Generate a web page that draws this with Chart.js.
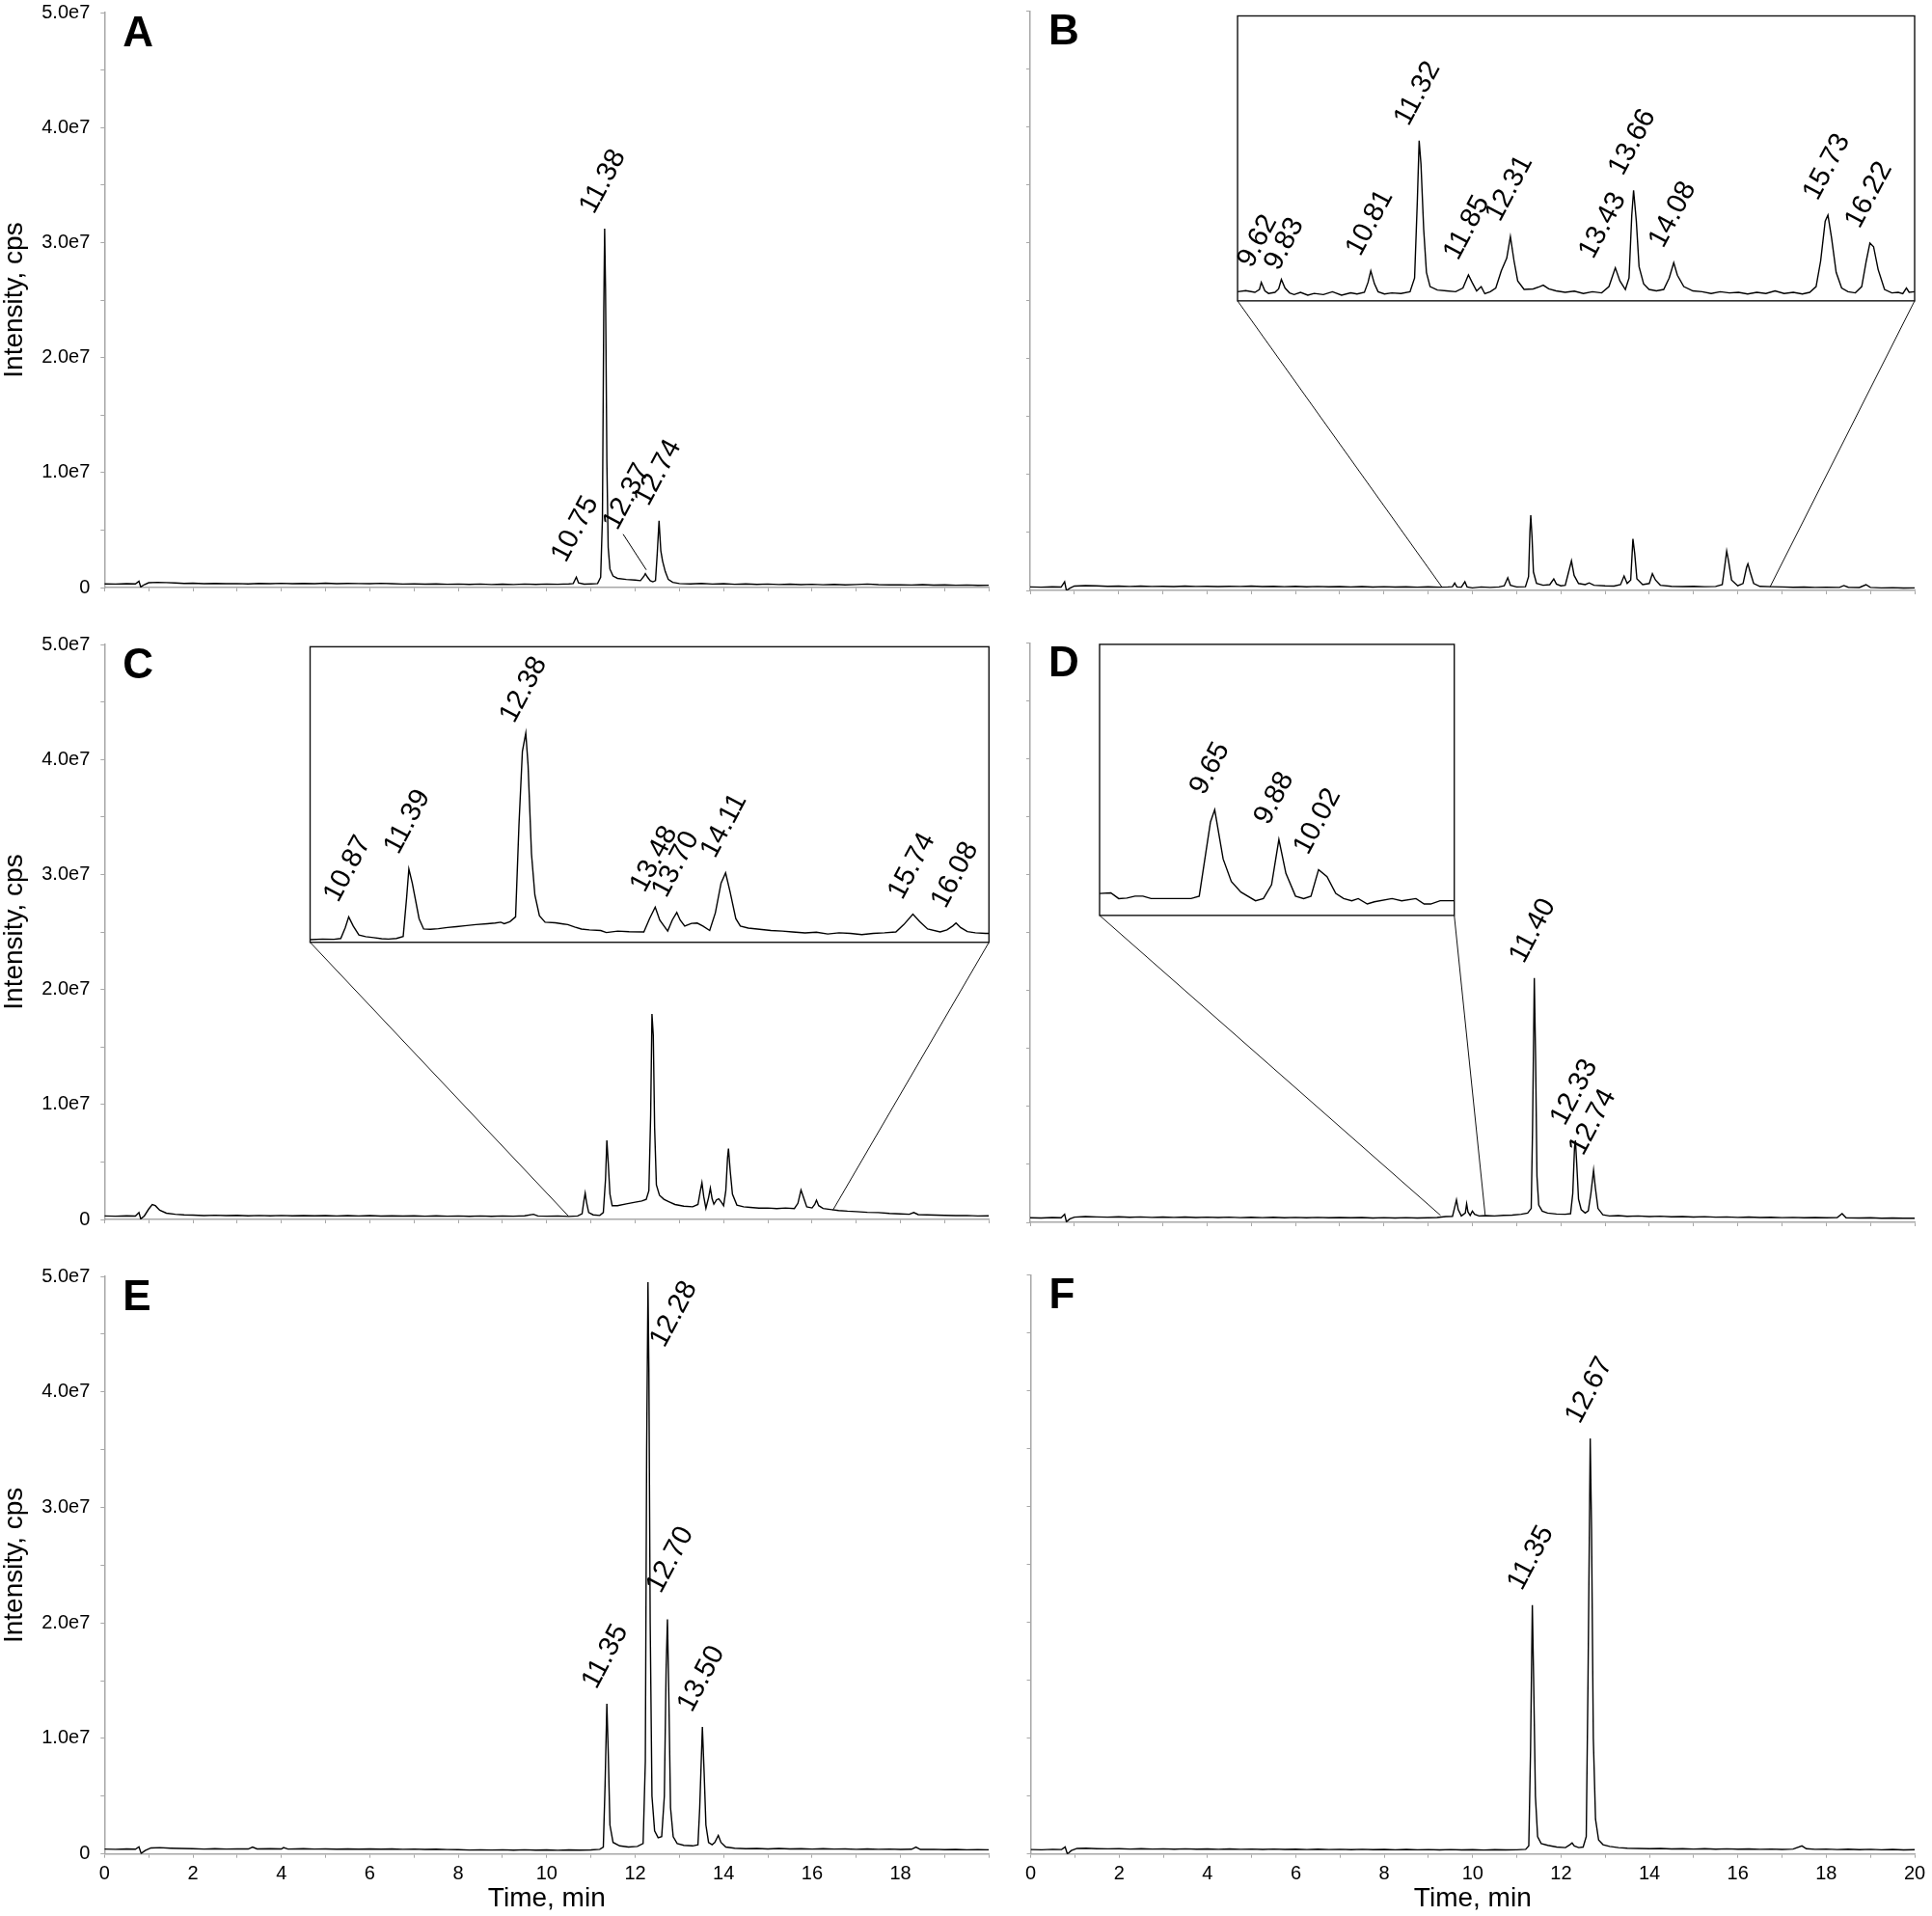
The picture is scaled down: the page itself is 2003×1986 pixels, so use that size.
<!DOCTYPE html>
<html>
<head>
<meta charset="utf-8">
<script src="https://cdn.jsdelivr.net/npm/chart.js@4.4.1/dist/chart.umd.min.js"></script>
<style>
  html, body { margin: 0; padding: 0; background: #fff; overflow: hidden; }
  body { width: 2003px; height: 1986px; position: relative; }
  canvas { position: absolute; }
</style>
</head>
<body>
<canvas id="cA"></canvas>
<canvas id="cB"></canvas>
<canvas id="cC"></canvas>
<canvas id="cD"></canvas>
<canvas id="cE"></canvas>
<canvas id="cF"></canvas>
<script>
// Chromatogram traces: [time (min), intensity (x 1e6 cps)]
const traceA = [[0,0.32],[0.25,0.30],[0.5,0.33],[0.7,0.31],[0.78,0.55],[0.82,0.05],[0.9,0.25],[1.0,0.42],[1.2,0.45],[1.4,0.43],[1.6,0.40],[1.8,0.36],[2.0,0.38],[2.25,0.34],[2.5,0.36],[2.75,0.33],[3.0,0.35],[3.25,0.32],[3.5,0.36],[3.75,0.34],[4.0,0.37],[4.25,0.33],[4.5,0.36],[4.75,0.34],[5.0,0.38],[5.25,0.33],[5.5,0.36],[5.75,0.35],[6.0,0.34],[6.25,0.37],[6.5,0.33],[6.75,0.30],[7.0,0.32],[7.25,0.29],[7.5,0.31],[7.75,0.28],[8.0,0.30],[8.25,0.27],[8.5,0.30],[8.75,0.26],[9.0,0.29],[9.25,0.26],[9.5,0.30],[9.75,0.27],[10.0,0.30],[10.25,0.28],[10.5,0.32],[10.6,0.35],[10.67,0.9],[10.72,0.4],[10.85,0.3],[11.0,0.32],[11.15,0.35],[11.22,0.9],[11.26,6],[11.29,24],[11.31,31.2],[11.33,26],[11.36,11],[11.39,3.5],[11.43,1.6],[11.5,1.0],[11.6,0.8],[11.8,0.7],[12.0,0.65],[12.12,0.6],[12.2,1.0],[12.23,1.2],[12.28,0.9],[12.34,0.6],[12.4,0.5],[12.46,0.6],[12.5,3],[12.54,5.8],[12.58,3.2],[12.62,2.3],[12.68,1.4],[12.75,0.7],[12.85,0.45],[13.0,0.35],[13.25,0.32],[13.5,0.36],[13.75,0.30],[14.0,0.33],[14.25,0.28],[14.5,0.31],[14.75,0.27],[15.0,0.30],[15.25,0.26],[15.5,0.29],[15.75,0.25],[16.0,0.28],[16.25,0.24],[16.5,0.27],[16.75,0.23],[17.0,0.26],[17.25,0.30],[17.5,0.25],[17.75,0.23],[18.0,0.24],[18.25,0.22],[18.5,0.25],[18.75,0.21],[19.0,0.23],[19.25,0.20],[19.5,0.22],[19.75,0.19],[20.0,0.2]];

const traceB = [[0,0.3],[0.25,0.28],[0.5,0.31],[0.7,0.29],[0.78,0.75],[0.82,0.0],[0.9,0.2],[1.0,0.38],[1.25,0.42],[1.5,0.39],[1.75,0.36],[2.0,0.38],[2.25,0.34],[2.5,0.37],[2.75,0.34],[3.0,0.36],[3.25,0.33],[3.5,0.37],[3.75,0.34],[4.0,0.36],[4.25,0.33],[4.5,0.36],[4.75,0.34],[5.0,0.37],[5.25,0.33],[5.5,0.35],[5.75,0.32],[6.0,0.35],[6.25,0.31],[6.5,0.34],[6.75,0.31],[7.0,0.33],[7.25,0.30],[7.5,0.33],[7.75,0.29],[8.0,0.32],[8.25,0.29],[8.5,0.31],[8.75,0.28],[9.0,0.31],[9.25,0.28],[9.45,0.3],[9.55,0.32],[9.60,0.64],[9.65,0.3],[9.75,0.28],[9.83,0.75],[9.88,0.3],[10.0,0.22],[10.2,0.3],[10.4,0.26],[10.6,0.3],[10.72,0.4],[10.8,1.1],[10.86,0.45],[11.0,0.3],[11.2,0.32],[11.27,1.2],[11.30,5.0],[11.32,6.5],[11.35,4.5],[11.38,1.6],[11.45,0.6],[11.6,0.45],[11.75,0.5],[11.84,1.0],[11.9,0.55],[12.0,0.4],[12.1,0.45],[12.17,1.5],[12.24,2.55],[12.3,1.3],[12.4,0.6],[12.55,0.5],[12.64,0.65],[12.75,0.45],[13.0,0.4],[13.2,0.38],[13.35,0.5],[13.43,1.25],[13.5,0.6],[13.58,0.9],[13.63,4.45],[13.67,3.2],[13.72,1.0],[13.85,0.5],[14.0,0.6],[14.07,1.45],[14.14,0.9],[14.25,0.45],[14.5,0.35],[14.75,0.33],[15.0,0.36],[15.25,0.32],[15.5,0.34],[15.65,0.5],[15.72,2.5],[15.75,3.4],[15.79,2.6],[15.86,0.9],[16.0,0.4],[16.12,0.6],[16.2,2.0],[16.23,2.3],[16.28,1.6],[16.36,0.6],[16.5,0.35],[16.75,0.32],[17.0,0.3],[17.25,0.27],[17.5,0.29],[17.75,0.26],[18.0,0.28],[18.3,0.26],[18.4,0.42],[18.5,0.27],[18.75,0.25],[18.9,0.5],[19.0,0.26],[19.25,0.22],[19.5,0.24],[19.75,0.21],[20.0,0.22]];

const traceC = [[0,0.3],[0.25,0.28],[0.5,0.32],[0.7,0.3],[0.78,0.6],[0.82,0.05],[0.9,0.3],[1.0,0.9],[1.08,1.3],[1.15,1.2],[1.25,0.8],[1.4,0.55],[1.6,0.45],[1.8,0.4],[2.0,0.38],[2.25,0.34],[2.5,0.37],[2.75,0.33],[3.0,0.36],[3.25,0.32],[3.5,0.35],[3.75,0.32],[4.0,0.35],[4.25,0.31],[4.5,0.34],[4.75,0.31],[5.0,0.34],[5.25,0.30],[5.5,0.33],[5.75,0.30],[6.0,0.33],[6.25,0.29],[6.5,0.32],[6.75,0.29],[7.0,0.31],[7.25,0.28],[7.5,0.31],[7.75,0.28],[8.0,0.3],[8.25,0.27],[8.5,0.3],[8.75,0.27],[9.0,0.3],[9.25,0.28],[9.5,0.31],[9.7,0.45],[9.8,0.3],[10.0,0.28],[10.25,0.3],[10.5,0.26],[10.7,0.3],[10.8,0.5],[10.84,1.6],[10.87,2.28],[10.9,1.5],[10.95,0.6],[11.05,0.4],[11.2,0.35],[11.28,0.6],[11.33,3.5],[11.36,6.87],[11.39,5.0],[11.43,2.2],[11.48,1.2],[11.6,1.2],[11.8,1.35],[12.0,1.5],[12.15,1.6],[12.25,1.75],[12.31,2.5],[12.35,9],[12.38,17.87],[12.41,16],[12.44,8],[12.48,3.0],[12.55,2.1],[12.65,1.75],[12.76,1.55],[12.9,1.3],[13.1,1.15],[13.3,1.1],[13.42,1.3],[13.47,2.4],[13.51,3.2],[13.55,2.0],[13.6,0.97],[13.66,1.9],[13.70,2.72],[13.74,1.8],[13.78,1.33],[13.84,1.7],[13.89,1.8],[13.95,1.5],[14.0,1.2],[14.05,2.5],[14.09,5.4],[14.11,6.17],[14.15,4.2],[14.2,2.2],[14.3,1.25],[14.45,1.1],[14.6,1.05],[14.8,0.98],[15.0,1.0],[15.2,0.95],[15.4,1.0],[15.6,0.95],[15.68,1.4],[15.75,2.56],[15.8,2.0],[15.88,1.1],[16.0,1.0],[16.06,1.3],[16.1,1.67],[16.15,1.2],[16.25,0.95],[16.45,0.85],[16.6,0.78],[16.8,0.72],[17.0,0.68],[17.25,0.62],[17.5,0.6],[17.75,0.52],[18.0,0.48],[18.2,0.45],[18.3,0.6],[18.4,0.42],[18.6,0.4],[18.8,0.38],[19.0,0.36],[19.25,0.33],[19.5,0.35],[19.75,0.3],[20.0,0.32]];

const traceD = [[0,0.4],[0.25,0.38],[0.5,0.42],[0.7,0.4],[0.78,0.7],[0.82,0.05],[0.9,0.3],[1.0,0.45],[1.25,0.5],[1.5,0.47],[1.75,0.45],[2.0,0.48],[2.25,0.44],[2.5,0.47],[2.75,0.43],[3.0,0.46],[3.25,0.43],[3.5,0.46],[3.75,0.42],[4.0,0.45],[4.25,0.42],[4.5,0.45],[4.75,0.41],[5.0,0.44],[5.25,0.41],[5.5,0.44],[5.75,0.40],[6.0,0.43],[6.25,0.40],[6.5,0.43],[6.75,0.39],[7.0,0.42],[7.25,0.39],[7.5,0.42],[7.75,0.38],[8.0,0.41],[8.25,0.38],[8.5,0.41],[8.75,0.37],[9.0,0.40],[9.2,0.42],[9.4,0.5],[9.55,0.52],[9.6,1.3],[9.64,1.95],[9.68,1.1],[9.75,0.55],[9.84,0.8],[9.87,1.6],[9.9,0.9],[9.95,0.6],[10.0,0.97],[10.05,0.7],[10.15,0.55],[10.3,0.58],[10.5,0.55],[10.7,0.6],[10.9,0.62],[11.1,0.7],[11.25,0.8],[11.33,1.2],[11.36,8],[11.4,21.1],[11.43,14],[11.46,4],[11.5,1.5],[11.58,0.97],[11.7,0.8],[11.9,0.72],[12.1,0.7],[12.22,0.75],[12.27,2.5],[12.31,6.5],[12.33,7.08],[12.36,5],[12.4,2.0],[12.46,1.1],[12.55,0.8],[12.62,1.0],[12.68,2.5],[12.74,4.5],[12.78,3.0],[12.84,1.2],[12.95,0.65],[13.1,0.55],[13.3,0.58],[13.5,0.52],[13.75,0.55],[14.0,0.5],[14.25,0.53],[14.5,0.48],[14.75,0.5],[15.0,0.46],[15.25,0.49],[15.5,0.45],[15.75,0.47],[16.0,0.43],[16.25,0.46],[16.5,0.42],[16.75,0.44],[17.0,0.41],[17.25,0.43],[17.5,0.4],[17.75,0.42],[18.0,0.39],[18.25,0.42],[18.36,0.75],[18.45,0.4],[18.75,0.38],[19.0,0.4],[19.25,0.36],[19.5,0.38],[19.75,0.35],[20.0,0.36]];

const traceE = [[0,0.42],[0.25,0.40],[0.5,0.43],[0.7,0.41],[0.78,0.62],[0.83,0.05],[0.92,0.3],[1.05,0.52],[1.25,0.55],[1.5,0.5],[1.75,0.47],[2.0,0.45],[2.25,0.42],[2.5,0.45],[2.75,0.42],[3.0,0.44],[3.25,0.43],[3.35,0.6],[3.45,0.44],[3.75,0.45],[4.0,0.43],[4.05,0.55],[4.15,0.42],[4.5,0.45],[4.75,0.42],[5.0,0.44],[5.25,0.41],[5.5,0.43],[5.75,0.41],[6.0,0.44],[6.25,0.41],[6.5,0.43],[6.75,0.4],[7.0,0.42],[7.25,0.39],[7.5,0.41],[7.75,0.38],[8.0,0.37],[8.25,0.34],[8.5,0.36],[8.75,0.34],[9.0,0.36],[9.25,0.33],[9.5,0.36],[9.75,0.33],[10.0,0.35],[10.25,0.32],[10.5,0.35],[10.75,0.33],[11.0,0.35],[11.2,0.4],[11.28,0.6],[11.32,6],[11.36,13.0],[11.39,9],[11.43,2.5],[11.5,1.0],[11.65,0.7],[11.85,0.6],[12.05,0.65],[12.18,0.9],[12.23,8],[12.26,35],[12.29,49.5],[12.31,42],[12.34,20],[12.38,5],[12.44,2.0],[12.52,1.4],[12.6,1.5],[12.66,5],[12.70,16],[12.73,20.3],[12.76,14],[12.8,4],[12.86,1.5],[12.95,0.9],[13.1,0.75],[13.3,0.7],[13.42,0.8],[13.46,4],[13.52,11.0],[13.56,7],[13.6,2.5],[13.66,1.0],[13.74,0.8],[13.8,1.0],[13.88,1.6],[13.94,1.0],[14.05,0.6],[14.25,0.5],[14.5,0.45],[14.75,0.48],[15.0,0.44],[15.25,0.47],[15.5,0.43],[15.75,0.46],[16.0,0.42],[16.25,0.45],[16.5,0.42],[16.75,0.44],[17.0,0.4],[17.25,0.43],[17.5,0.4],[17.75,0.42],[18.0,0.39],[18.25,0.41],[18.35,0.6],[18.45,0.39],[18.75,0.4],[19.0,0.37],[19.25,0.39],[19.5,0.36],[19.75,0.38],[20.0,0.36]];

const traceF = [[0,0.38],[0.25,0.36],[0.5,0.4],[0.7,0.38],[0.78,0.6],[0.83,0.0],[0.92,0.3],[1.05,0.48],[1.25,0.5],[1.5,0.46],[1.75,0.44],[2.0,0.46],[2.25,0.42],[2.5,0.45],[2.75,0.42],[3.0,0.44],[3.25,0.41],[3.5,0.44],[3.75,0.41],[4.0,0.43],[4.25,0.4],[4.5,0.43],[4.75,0.4],[5.0,0.42],[5.25,0.39],[5.5,0.42],[5.75,0.39],[6.0,0.41],[6.25,0.38],[6.5,0.41],[6.75,0.38],[7.0,0.4],[7.25,0.37],[7.5,0.4],[7.75,0.37],[8.0,0.39],[8.25,0.36],[8.5,0.39],[8.75,0.36],[9.0,0.38],[9.25,0.35],[9.5,0.38],[9.75,0.35],[10.0,0.37],[10.25,0.34],[10.5,0.37],[10.75,0.35],[11.0,0.36],[11.2,0.4],[11.27,0.7],[11.31,9],[11.35,21.5],[11.38,15],[11.42,5],[11.47,1.5],[11.55,0.9],[11.7,0.75],[11.9,0.6],[12.1,0.55],[12.2,0.8],[12.25,0.95],[12.3,0.7],[12.4,0.55],[12.5,0.6],[12.57,1.5],[12.61,15],[12.66,35.9],[12.69,28],[12.73,10],[12.78,3],[12.85,1.2],[12.95,0.8],[13.1,0.65],[13.3,0.55],[13.5,0.5],[13.75,0.48],[14.0,0.45],[14.25,0.47],[14.5,0.43],[14.75,0.46],[15.0,0.42],[15.25,0.45],[15.5,0.41],[15.75,0.44],[16.0,0.41],[16.25,0.43],[16.5,0.4],[16.75,0.42],[17.0,0.39],[17.25,0.42],[17.45,0.7],[17.55,0.45],[17.75,0.4],[18.0,0.42],[18.25,0.38],[18.5,0.41],[18.75,0.37],[19.0,0.4],[19.25,0.36],[19.5,0.39],[19.75,0.35],[20.0,0.37]];

// Zoomed insets: [time (min), relative intensity (% of inset height)]
const insetB = [[9.31,3.2],[9.40,3.6],[9.50,3.0],[9.55,4.0],[9.57,6.5],[9.61,3.5],[9.65,2.6],[9.72,3.0],[9.76,4.2],[9.79,7.5],[9.83,4.5],[9.88,2.8],[9.93,2.2],[10.0,3.0],[10.08,2.0],[10.15,2.6],[10.25,2.2],[10.35,3.2],[10.45,2.0],[10.55,2.8],[10.62,2.4],[10.70,3.0],[10.74,6.5],[10.77,10.5],[10.81,6.0],[10.85,3.2],[10.92,2.4],[11.0,2.8],[11.1,2.6],[11.2,3.2],[11.25,8],[11.28,35],[11.30,56.2],[11.32,48],[11.35,25],[11.38,10],[11.42,5],[11.5,3.8],[11.6,3.5],[11.7,3.2],[11.78,4.5],[11.84,9.1],[11.88,6.5],[11.93,3.5],[11.98,5.0],[12.02,2.5],[12.08,3.2],[12.14,4.5],[12.2,10.5],[12.26,15],[12.30,22.6],[12.34,14],[12.38,7],[12.45,4.0],[12.55,4.2],[12.62,5.0],[12.66,5.5],[12.72,4.2],[12.8,3.5],[12.9,3.0],[13.0,3.4],[13.1,2.6],[13.2,3.2],[13.3,2.8],[13.38,5],[13.45,11.6],[13.5,7],[13.56,4.0],[13.6,8],[13.63,30],[13.65,38.8],[13.68,28],[13.71,12],[13.76,6],[13.82,4.0],[13.9,3.5],[13.98,4.0],[14.04,8],[14.09,13.4],[14.13,9],[14.2,5],[14.3,3.5],[14.4,3.2],[14.5,2.6],[14.6,3.2],[14.7,2.8],[14.8,3.0],[14.9,2.4],[15.0,3.0],[15.1,2.6],[15.2,3.5],[15.3,2.6],[15.4,3.0],[15.5,2.4],[15.58,3.0],[15.65,5],[15.70,14],[15.75,28],[15.78,30.1],[15.82,22],[15.87,10],[15.93,4.5],[16.0,3.2],[16.08,2.8],[16.15,5],[16.2,14],[16.24,20.3],[16.28,19],[16.33,11],[16.4,4],[16.48,2.8],[16.55,3.0],[16.6,2.5],[16.64,4.5],[16.67,3.0],[16.73,3.2]];

const insetC = [[10.49,0.9],[10.6,1.1],[10.7,1.0],[10.76,1.3],[10.8,5],[10.83,8.6],[10.87,5.5],[10.92,2.5],[10.98,1.9],[11.05,1.6],[11.12,1.2],[11.18,1.1],[11.25,1.3],[11.31,2.0],[11.34,15],[11.36,24.8],[11.39,20],[11.41,16],[11.45,8],[11.49,4.5],[11.55,4.4],[11.62,4.6],[11.70,5.0],[11.78,5.3],[11.85,5.6],[11.95,6.0],[12.05,6.3],[12.12,6.5],[12.17,6.8],[12.2,6.3],[12.25,7.0],[12.3,8.6],[12.33,40],[12.36,64.6],[12.39,70.8],[12.41,60],[12.44,30],[12.47,16],[12.51,9],[12.56,6.8],[12.65,6.6],[12.72,6.2],[12.76,6.0],[12.82,5.2],[12.88,4.5],[12.95,4.2],[13.05,4.0],[13.1,3.3],[13.2,3.8],[13.3,3.6],[13.43,3.5],[13.48,8],[13.53,11.9],[13.57,7.5],[13.64,3.8],[13.68,7.5],[13.72,10.1],[13.75,7.5],[13.79,5.5],[13.85,6.4],[13.9,6.5],[13.95,5.5],[14.01,4.0],[14.06,10],[14.11,20],[14.15,23.5],[14.19,17],[14.24,8],[14.28,5.5],[14.35,4.8],[14.45,4.4],[14.55,4.0],[14.65,3.8],[14.74,3.5],[14.85,3.2],[14.95,3.4],[15.05,2.8],[15.15,3.2],[15.25,3.0],[15.35,2.6],[15.45,3.0],[15.55,3.2],[15.65,3.5],[15.72,6],[15.80,9.5],[15.86,7],[15.93,4.5],[16.04,3.5],[16.1,4.2],[16.15,5.5],[16.18,6.5],[16.22,5.0],[16.28,3.6],[16.35,3.2],[16.44,3.0],[16.47,3.0]];

const insetD = [[9.24,8.1],[9.28,8.3],[9.308,6.2],[9.337,6.4],[9.366,7.1],[9.394,7.1],[9.423,6.2],[9.565,6.2],[9.594,7.1],[9.634,34.5],[9.649,39.0],[9.679,20.8],[9.708,12.5],[9.742,8.6],[9.794,5.4],[9.822,6.2],[9.851,11.3],[9.877,28.0],[9.902,15.5],[9.936,7.1],[9.965,6.2],[9.991,7.1],[10.018,16.9],[10.048,14.3],[10.079,8.1],[10.107,6.2],[10.136,5.4],[10.159,6.2],[10.191,4.2],[10.216,5.0],[10.279,6.2],[10.313,5.4],[10.364,6.2],[10.393,4.2],[10.416,4.2],[10.45,5.4],[10.50,5.4]];

// Peak labels: [time, height, text]
const peaksA = [[10.67,0.9,'10.75'],[11.31,31.2,'11.38'],[12.23,1.2,'12.37'],[12.54,5.8,'12.74']];
const peaksD = [[11.4,21.1,'11.40'],[12.33,7.08,'12.33'],[12.74,4.5,'12.74']];
const peaksE = [[11.36,13.0,'11.35'],[12.29,49.5,'12.28'],[12.73,20.3,'12.70'],[13.52,11.0,'13.50']];
const peaksF = [[11.35,21.5,'11.35'],[12.66,35.9,'12.67']];
const insetPeaksB = [[9.57,6.5,'9.62'],[9.79,7.5,'9.83'],[10.77,10.5,'10.81'],[11.30,56.2,'11.32'],[11.84,9.1,'11.85'],[12.30,22.6,'12.31'],[13.45,11.6,'13.43'],[13.65,38.8,'13.66'],[14.09,13.4,'14.08'],[15.78,30.1,'15.73'],[16.24,20.3,'16.22']];
const insetPeaksC = [[10.83,8.6,'10.87'],[11.36,24.8,'11.39'],[12.39,70.8,'12.38'],[13.53,11.9,'13.48'],[13.72,10.1,'13.70'],[14.15,23.5,'14.11'],[15.80,9.5,'15.74'],[16.18,6.5,'16.08']];
const insetPeaksD = [[9.649,39.0,'9.65'],[9.877,28.0,'9.88'],[10.018,16.9,'10.02']];

// y ticks every 0.5e7, x ticks every minute
const Y_MAX = 50, Y_STEP = 5, X_MAX = 20;

// ---- layout / style ----
const AXIS = '#a8a8a8';
const FONT = "'Liberation Sans', Arial, sans-serif";
Chart.defaults.font.family = FONT;
Chart.defaults.color = '#000';

// label offsets (px) from the peak top; default applies when not listed
const LABEL_OFF = [-11, -14];
const NUDGE = {
  'A:12.37': [-29, -44], 'B:9.62': [-10, -14], 'B:9.83': [-3, -8], 'B:13.43': [-23, -8],
  'C:12.38': [-12, -9], 'E:12.28': [17, 69], 'E:12.70': [-7, -26]
};
const LEADER = { 'A:12.37': true };

// inset boxes, in main-axis units: [t0, t1, I0, I1]; range = inset time span; from = connector feet
const INSETS = {
  B: { box: [4.69, 20, 25.0, 49.6], range: [9.31, 16.73], from: [[9.31, 0.3], [16.73, 0.3]], trace: insetB, peaks: insetPeaksB },
  C: { box: [4.65, 20, 24.1, 49.8], range: [10.49, 16.47], from: [[10.49, 0.3], [16.47, 0.8]], trace: insetC, peaks: insetPeaksC },
  D: { box: [1.57, 9.59, 26.5, 49.9], range: [9.24, 10.50], from: [[9.28, 0.6], [10.29, 0.6]], trace: insetD, peaks: insetPeaksD }
};

const PANELS = [
  { id: 'cA', letter: 'A', col: 0, row: 0, trace: traceA, peaks: peaksA },
  { id: 'cB', letter: 'B', col: 1, row: 0, trace: traceB, peaks: [] },
  { id: 'cC', letter: 'C', col: 0, row: 1, trace: traceC, peaks: [] },
  { id: 'cD', letter: 'D', col: 1, row: 1, trace: traceD, peaks: peaksD },
  { id: 'cE', letter: 'E', col: 0, row: 2, trace: traceE, peaks: peaksE },
  { id: 'cF', letter: 'F', col: 1, row: 2, trace: traceF, peaks: peaksF }
];

function toXY(arr) { return arr.map(p => ({ x: p[0], y: p[1] })); }

function seg(ctx, x0, y0, x1, y1) {
  ctx.beginPath(); ctx.moveTo(x0, y0); ctx.lineTo(x1, y1); ctx.stroke();
}

function drawPeakLabels(ctx, list, sx, sy, letter) {
  ctx.font = '29px ' + FONT;
  ctx.fillStyle = '#000';
  ctx.textAlign = 'left';
  ctx.textBaseline = 'alphabetic';
  list.forEach(([t, v, txt]) => {
    const key = letter + ':' + txt;
    const off = NUDGE[key] || LABEL_OFF;
    const px = sx.getPixelForValue(t), py = sy.getPixelForValue(v);
    ctx.save();
    ctx.translate(px + off[0], py + off[1]);
    ctx.rotate(-62 * Math.PI / 180);
    ctx.fillText(txt, 0, 0);
    ctx.restore();
    if (LEADER[key]) {
      ctx.strokeStyle = '#000'; ctx.lineWidth = 1;
      seg(ctx, px + off[0] + 6, py + off[1] + 3, px + 1, py - 4);
    }
  });
}

function makeDecor(p) {
  return {
    id: 'decor' + p.letter,
    afterDatasetsDraw(chart) {
      const ctx = chart.ctx, a = chart.chartArea;
      const sx = chart.scales.x, sy = chart.scales.y;
      ctx.save();
      ctx.fillStyle = '#000';
      ctx.font = 'bold 44px ' + FONT;
      ctx.textAlign = 'left';
      ctx.textBaseline = 'alphabetic';
      ctx.fillText(p.letter, a.left + 19, a.top + 34.5);

      const ins = INSETS[p.letter];
      if (ins) {
        const b = ins.box;
        const L = sx.getPixelForValue(b[0]), R = sx.getPixelForValue(b[1]);
        const B = sy.getPixelForValue(b[2]), T = sy.getPixelForValue(b[3]);
        ctx.strokeStyle = '#111';
        ctx.lineWidth = 1.4;
        ctx.strokeRect(L, T, R - L, B - T);
        ctx.lineWidth = 1;
        const f = ins.from;
        seg(ctx, sx.getPixelForValue(f[0][0]), sy.getPixelForValue(f[0][1]), L, B);
        seg(ctx, sx.getPixelForValue(f[1][0]), sy.getPixelForValue(f[1][1]), R, B);
        drawPeakLabels(ctx, ins.peaks, chart.scales.xi, chart.scales.yi, p.letter);
      }
      drawPeakLabels(ctx, p.peaks, sx, sy, p.letter);
      ctx.restore();
    }
  };
}

function xScale(showLabels, hideLast) {
  return {
    type: 'linear', min: 0, max: X_MAX,
    border: { display: true, color: AXIS, width: 1.5 },
    grid: { drawOnChartArea: false, drawTicks: true, tickLength: 4, color: AXIS },
    ticks: {
      display: showLabels, stepSize: 1, autoSkip: false, maxRotation: 0, padding: 5,
      color: '#000', font: { size: 20 },
      callback: v => (v % 2 === 0 && !(hideLast && v === X_MAX)) ? String(v) : ''
    },
    title: { display: showLabels, text: 'Time, min', color: '#000', font: { size: 28 }, padding: { top: 0, bottom: 1 } },
    afterFit: s => { s.height = showLabels ? 64.3 : 20; }
  };
}

function yScale(showLabels) {
  return {
    type: 'linear', min: 0, max: Y_MAX,
    border: { display: true, color: AXIS, width: 1.5 },
    grid: { drawOnChartArea: false, drawTicks: true, tickLength: 4, color: AXIS },
    ticks: {
      display: showLabels, stepSize: Y_STEP, padding: 11, color: '#000', font: { size: 20 },
      callback: v => v % 10 === 0 ? (v === 0 ? '0' : (v / 10).toFixed(1) + 'e7') : ''
    },
    title: { display: showLabels, text: 'Intensity, cps', color: '#000', font: { size: 28 }, padding: 0 },
    afterFit: s => { s.width = showLabels ? 110.3 : 10; }
  };
}

// hidden axes that map an inset's own units onto its box
function insetScales(ins) {
  const [bx0, bx1, by0, by1] = ins.box, [t0, t1] = ins.range;
  const kx = (t1 - t0) / (bx1 - bx0), ky = 100 / (by1 - by0);
  return {
    xi: { type: 'linear', display: false, min: t0 - bx0 * kx, max: t0 + (X_MAX - bx0) * kx },
    yi: { type: 'linear', display: false, min: -by0 * ky, max: (Y_MAX - by0) * ky }
  };
}

const lineStyle = { borderColor: '#000', borderWidth: 1.4, pointRadius: 0, tension: 0, fill: false };

PANELS.forEach(p => {
  const cv = document.getElementById(p.id);
  const left = p.col === 0 ? -2 : 1058;
  const width = p.col === 0 ? 1047 : 945;
  const padR = p.col === 0 ? 19.7 : 18;
  const top = [-10, 645, 1300][p.row];
  const height = p.row === 2 ? 686 : 641.7;
  cv.style.left = left + 'px';
  cv.style.top = top + 'px';
  cv.width = width;
  cv.height = Math.round(height);
  cv.style.width = width + 'px';
  cv.style.height = height + 'px';

  const bottomRow = p.row === 2;
  const scales = { x: xScale(bottomRow, p.col === 0), y: yScale(p.col === 0) };
  const datasets = [Object.assign({ data: toXY(p.trace), xAxisID: 'x', yAxisID: 'y' }, lineStyle)];
  const ins = INSETS[p.letter];
  if (ins) {
    Object.assign(scales, insetScales(ins));
    datasets.push(Object.assign({ data: toXY(ins.trace), xAxisID: 'xi', yAxisID: 'yi' }, lineStyle));
  }

  new Chart(cv, {
    type: 'line',
    data: { datasets },
    options: {
      responsive: false,
      animation: false,
      events: [],
      parsing: false,
      layout: { padding: { top: 21.7, right: padR, bottom: 0, left: 0 } },
      scales,
      plugins: { legend: { display: false }, tooltip: { enabled: false } }
    },
    plugins: [makeDecor(p)]
  });
});
</script>
</body>
</html>
